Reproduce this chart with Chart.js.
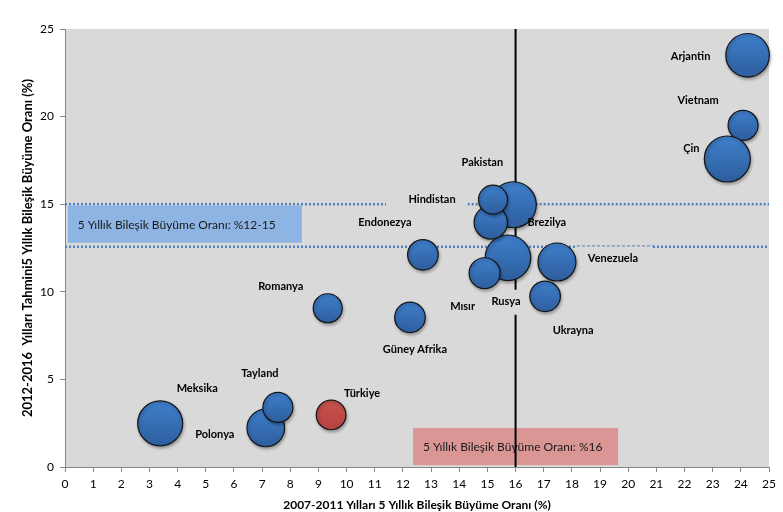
<!DOCTYPE html>
<html>
<head>
<meta charset="utf-8">
<script src="https://cdn.jsdelivr.net/npm/chart.js@4.4.0/dist/chart.umd.min.js"></script>
<style>
    html, body { margin: 0; padding: 0; background: #fff; }
    #wrap { width: 783px; height: 512px; }
</style>
</head>
<body>
<div id="wrap"><canvas id="bubbleChart" width="783" height="512"></canvas></div>
<script>
// Countries, drawn in this order (later ones sit on top)
const countries = ['Meksika', 'Polonya', 'Tayland', 'Türkiye', 'Romanya', 'Güney Afrika', 'Endonezya', 'Rusya',
    'Mısır', 'Venezuela', 'Ukrayna', 'Pakistan', 'Brezilya', 'Hindistan', 'Vietnam', 'Çin', 'Arjantin'];
// 2007-2011 CAGR (%)
const growthPast = [3.38, 7.13, 7.56, 9.45, 9.33, 12.25, 12.71, 15.73, 14.9, 17.47, 17.05, 15.92, 15.12, 15.2, 24.08, 23.52, 24.24];
// 2012-2016 forecast CAGR (%)
const growthForecast = [2.49, 2.23, 3.4, 2.97, 9.06, 8.54, 12.11, 11.94, 11.06, 11.7, 9.74, 14.97, 13.96, 15.26, 19.5, 17.58, 23.5];
// bubble size
const bubbleSize = [22.5, 18.8, 15, 14.8, 14.5, 15.3, 15.3, 22.8, 15.5, 19, 15.3, 23, 16.7, 14.5, 15, 23, 21.8];
const highlighted = 'Türkiye';

const xTickMax = 25;
const yTickMax = 25;

// reference levels
const pastAverage = 16;
const forecastBand = [12.57, 15];
const upperBandSegments = [[0, 11.4], [14.3, 25]];
const lowerBandDotted = [[0, 18.18], [20.88, 25]];
const lowerBandThin = [18.18, 20.88];
const pastAverageSegments = [[0, 8.69], [10.11, 25]];

const bandText = '5 Yıllık Bileşik Büyüme Oranı: %12-15';
const pastText = '5 Yıllık Bileşik Büyüme Oranı: %16';

// label offsets from bubble centre (px)
const labelOffsets = {
    'Meksika': [37, -35], 'Polonya': [-51, 7], 'Tayland': [-18, -34], 'Türkiye': [31, -22],
    'Romanya': [-47, -22], 'Güney Afrika': [5, 32], 'Endonezya': [-38, -32], 'Rusya': [-2, 44],
    'Mısır': [-22, 33], 'Venezuela': [56, -4], 'Ukrayna': [28, 34], 'Pakistan': [-31, -42],
    'Brezilya': [56, 0], 'Hindistan': [-61, 0], 'Çin': [-36, -11], 'Vietnam': [-45, -25], 'Arjantin': [-57, 1]
};

const FONT = 'Lato, "Open Sans", sans-serif';
const dotBlue = '#4F81BD';

function hLine(y, from, to) {
    return [{ x: from, y: y }, { x: to, y: y }];
}

function bubbleFill(ctx) {
    const raw = ctx.raw;
    const flat = raw && raw.name === highlighted ? '#C0504D' : '#3A75C0';
    if (ctx.type !== 'data') return flat;
    const cy = ctx.chart.scales.y ? ctx.chart.scales.y.getPixelForValue(raw.y) : NaN;
    if (!isFinite(cy)) return flat;
    const g = ctx.chart.ctx.createLinearGradient(0, cy - raw.r, 0, cy + raw.r);
    if (raw.name === highlighted) {
        g.addColorStop(0, '#C9534F');
        g.addColorStop(1, '#B3423F');
    } else {
        g.addColorStop(0, '#3F7FCC');
        g.addColorStop(1, '#2D5E9D');
    }
    return g;
}

const plotBackground = {
    id: 'plotBackground',
    beforeDraw(chart) {
        const { ctx, chartArea: a } = chart;
        ctx.save();
        ctx.fillStyle = '#D9D9D9';
        ctx.fillRect(a.left, a.top, a.right - a.left, a.bottom - a.top);
        ctx.restore();
    }
};

// soft drop shadow under the bubbles only
const bubbleShadow = {
    id: 'bubbleShadow',
    beforeDatasetDraw(chart, args) {
        if (args.meta.type !== 'bubble') return;
        const ctx = chart.ctx;
        ctx.save();
        ctx.shadowColor = 'rgba(0,0,0,0.28)';
        ctx.shadowBlur = 3;
        ctx.shadowOffsetX = 1;
        ctx.shadowOffsetY = 2;
    },
    afterDatasetDraw(chart, args) {
        if (args.meta.type !== 'bubble') return;
        chart.ctx.restore();
    }
};

const noteBoxes = {
    id: 'noteBoxes',
    beforeDatasetsDraw(chart) {
        const { ctx, scales: { x, y } } = chart;
        ctx.save();
        // blue band note
        ctx.fillStyle = '#8EB4E3';
        const bx = x.getPixelForValue(0.1), by = y.getPixelForValue(14.92);
        ctx.fillRect(bx, by, x.getPixelForValue(8.41) - bx, y.getPixelForValue(12.8) - by);
        // red note
        ctx.fillStyle = '#D99694';
        const rx = x.getPixelForValue(12.36), ry = y.getPixelForValue(2.23);
        ctx.fillRect(rx, ry, x.getPixelForValue(19.64) - rx, y.getPixelForValue(0.11) - ry);

        ctx.fillStyle = '#1a1a1a';
        ctx.font = '12px ' + FONT;
        ctx.textBaseline = 'middle';
        ctx.textAlign = 'left';
        ctx.fillText(bandText, bx + 10, (by + y.getPixelForValue(12.8)) / 2 + 1);
        ctx.fillText(pastText, rx + 10, (ry + y.getPixelForValue(0.11)) / 2 + 1);
        ctx.restore();
    }
};

const bubbleLabels = {
    id: 'bubbleLabels',
    afterDatasetsDraw(chart) {
        const { ctx, scales: { x, y } } = chart;
        ctx.save();
        ctx.font = 'bold 11px ' + FONT;
        ctx.fillStyle = '#000';
        ctx.textAlign = 'center';
        ctx.textBaseline = 'middle';
        countries.forEach((name, i) => {
            const off = labelOffsets[name];
            ctx.fillText(name, x.getPixelForValue(growthPast[i]) + off[0], y.getPixelForValue(growthForecast[i]) + off[1]);
        });
        ctx.restore();
    }
};

const bubbles = countries.map((name, i) => ({ x: growthPast[i], y: growthForecast[i], r: bubbleSize[i], name }));

const dottedStyle = { type: 'line', borderColor: dotBlue, borderWidth: 2.5, borderDash: [2, 2], pointRadius: 0, fill: false, order: 2 };

const datasets = [
    {
        type: 'bubble',
        label: 'Ülkeler',
        data: bubbles,
        backgroundColor: bubbleFill,
        borderColor: '#151515',
        borderWidth: 1.2,
        clip: false,
        order: 0
    },
    ...upperBandSegments.map(s => Object.assign({ data: hLine(forecastBand[1], s[0], s[1]) }, dottedStyle)),
    ...lowerBandDotted.map(s => Object.assign({ data: hLine(forecastBand[0], s[0], s[1]) }, dottedStyle)),
    Object.assign({}, dottedStyle, { data: hLine(forecastBand[0] + 0.05, lowerBandThin[0], lowerBandThin[1]), borderWidth: 1, borderDash: [3, 2] }),
    ...pastAverageSegments.map(s => ({
        type: 'line',
        data: [{ x: pastAverage, y: s[0] }, { x: pastAverage, y: s[1] }],
        borderColor: '#000',
        borderWidth: 2,
        pointRadius: 0,
        fill: false,
        order: 1
    }))
];

new Chart(document.getElementById('bubbleChart').getContext('2d'), {
    type: 'bubble',
    data: { datasets },
    options: {
        responsive: false,
        animation: false,
        devicePixelRatio: 1,
        layout: { autoPadding: false, padding: { top: 29, right: 14, left: 0, bottom: 0 } },
        plugins: {
            legend: { display: false },
            tooltip: { enabled: false }
        },
        scales: {
            x: {
                type: 'linear',
                min: 0,
                max: xTickMax,
                afterFit: s => { s.height = 45; },
                ticks: { stepSize: 1, color: '#000', font: { family: FONT, size: 12 }, padding: 5, maxRotation: 0 },
                grid: { drawOnChartArea: false, drawTicks: true, tickLength: 5, color: '#868686' },
                border: { color: '#868686', width: 1 },
                title: {
                    display: true,
                    text: '2007-2011 Yılları 5 Yıllık Bileşik Büyüme Oranı (%)',
                    color: '#000',
                    font: { family: FONT, size: 12, weight: 'bold' },
                    padding: { top: 4, bottom: 0 }
                }
            },
            y: {
                type: 'linear',
                min: 0,
                max: yTickMax,
                afterFit: s => { s.width = 65; },
                ticks: { stepSize: 5, color: '#000', font: { family: FONT, size: 12 }, padding: 6 },
                grid: { drawOnChartArea: false, drawTicks: true, tickLength: 5, color: '#868686' },
                border: { color: '#868686', width: 1 },
                title: {
                    display: true,
                    text: '2012-2016  Yılları Tahmini5 Yıllık Bileşik Büyüme Oranı (%)',
                    color: '#000',
                    font: { family: FONT, size: 13, weight: 'bold' },
                    padding: { top: 20, bottom: 0 }
                }
            }
        }
    },
    plugins: [plotBackground, noteBoxes, bubbleShadow, bubbleLabels]
});
</script>
</body>
</html>
